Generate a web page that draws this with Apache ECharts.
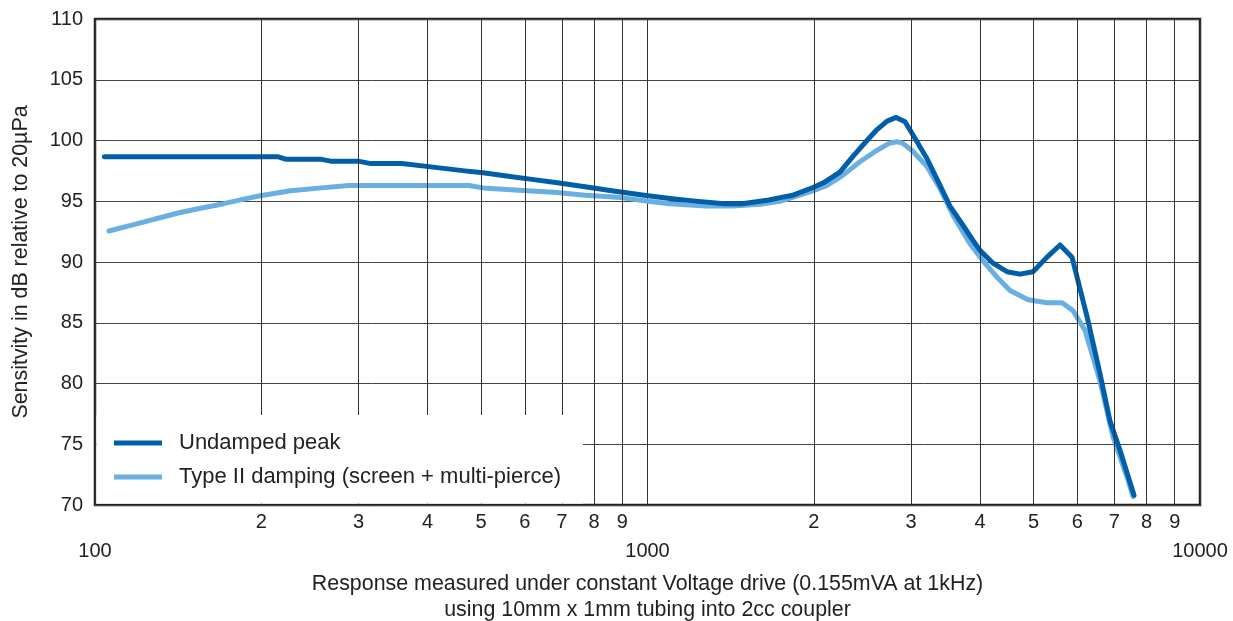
<!DOCTYPE html>
<html>
<head>
<meta charset="utf-8">
<script src="https://cdn.jsdelivr.net/npm/echarts@6/dist/echarts.min.js"></script>
<style>html,body{margin:0;padding:0;background:#fff;}#c{width:1233px;height:621px;}</style>
</head>
<body>
<div id="c"></div>
<script>
// Undamped peak
const undampedFreq = [104,214,222,257,267,299,316,359,402,467,504,573,618,692,771,862,986,1098,1209,1376,1483,1660,1737,1834,1993,2078,2230,2354,2496,2603,2714,2818,2925,3024,3206,3384,3527,3708,3866,3997,4220,4474,4723,4986,5286,5581,5866,6245,6592,6873,7165,7596];
const undampedDb = [98.67,98.67,98.45,98.45,98.3,98.3,98.1,98.1,97.85,97.5,97.35,97.0,96.8,96.5,96.2,95.86,95.5,95.23,95.03,94.8,94.8,95.1,95.3,95.5,96.13,96.5,97.4,98.7,100.0,100.9,101.6,101.9,101.55,100.45,98.5,96.3,94.6,93.15,91.9,90.96,89.9,89.2,89.0,89.2,90.4,91.4,90.4,85.5,80.8,76.9,74.5,70.8];
// Type II damping
const dampedFreq = [106,118,130,142,156,171,185,199,226,257,288,475,504,585,677,771,896,1002,1098,1276,1428,1598,1737,1993,2113,2259,2424,2603,2748,2829,2900,3024,3206,3384,3572,3834,4047,4291,4531,4884,5286,5627,5890,6193,6592,6960,7378,7565];
const dampedDb = [92.55,93.1,93.6,94.05,94.45,94.8,95.15,95.45,95.86,96.1,96.3,96.3,96.1,95.9,95.75,95.5,95.3,95.0,94.8,94.6,94.6,94.76,95.0,95.86,96.3,97.15,98.25,99.2,99.8,99.9,99.76,99.1,97.85,96.05,93.85,91.5,90.1,88.75,87.66,86.9,86.65,86.65,86.0,84.37,80.2,75.6,72.3,70.7];
// Minor grid lines (with digit labels)
const minorFreq = [200,300,400,500,600,700,800,900,2000,3000,4000,5000,6000,7000,8000,9000];
const minorLabels = ['2','3','4','5','6','7','8','9','2','3','4','5','6','7','8','9'];
const yTicks = [70,75,80,85,90,95,100,105,110];

const seriesNames = ['Undamped peak', 'Type II damping (screen + multi-pierce)'];
const font = '"Liberation Sans", Arial, sans-serif';
const textColor = '#222';

const chart = echarts.init(document.getElementById('c'), null, {renderer: 'canvas'});
const pair = (xs, ys) => xs.map((x, i) => [x, ys[i]]);

chart.setOption({
  animation: false,
  backgroundColor: '#fff',
  grid: {left: 95, right: 33, top: 19, bottom: 116, show: true, borderColor: '#222', borderWidth: 2.5, backgroundColor: 'transparent', outerBoundsMode: 'none', containLabel: false},
  xAxis: {
    type: 'log', logBase: 10, min: 100, max: 10000,
    axisLine: {show: false}, axisTick: {show: false},
    axisLabel: {show: true, margin: 36, fontSize: 20, color: textColor, fontFamily: font, showMinLabel: true, showMaxLabel: true,
      formatter: v => String(Math.round(v))},
    splitLine: {show: true, lineStyle: {color: '#333', width: 1}},
    name: 'Response measured under constant Voltage drive (0.155mVA at 1kHz)\nusing 10mm x 1mm tubing into 2cc coupler',
    nameLocation: 'middle', nameGap: 66,
    nameTextStyle: {fontSize: 21.4, color: textColor, fontFamily: font, lineHeight: 26, align: 'center'}
  },
  yAxis: {
    type: 'value', min: yTicks[0], max: yTicks[yTicks.length - 1], interval: 5,
    axisLine: {show: false}, axisTick: {show: false},
    axisLabel: {margin: 12, fontSize: 20, color: textColor, fontFamily: font},
    splitLine: {show: true, lineStyle: {color: '#444', width: 1}},
    name: 'Sensitvity in dB relative to 20\u00b5Pa', nameLocation: 'middle', nameGap: 63,
    nameTextStyle: {fontSize: 21.4, color: textColor, fontFamily: font}
  },
  legend: {
    z: 30, zlevel: 0,
    orient: 'vertical', left: 114, top: 432, padding: 0, itemGap: 12,
    itemWidth: 48, itemHeight: 5, icon: 'rect',
    data: seriesNames,
    textStyle: {fontSize: 22, color: textColor, fontFamily: font, padding: [0, 0, 0, 12]}
  },
  graphic: {
    elements: [{type: 'rect', z: 20, zlevel: 0, silent: true, shape: {x: 96.5, y: 415, width: 486.5, height: 88.5}, style: {fill: '#fff'}}]
  },
  series: [
    {
      name: seriesNames[1], type: 'line', data: pair(dampedFreq, dampedDb),
      showSymbol: false, symbol: 'none', smooth: false,
      lineStyle: {color: '#69afe1', width: 5, cap: 'round', join: 'round'},
      itemStyle: {color: '#69afe1'},
      markLine: {
        silent: true, symbol: 'none', animation: false,
        lineStyle: {color: '#333', width: 1, type: 'solid'},
        label: {show: true, position: 'start', distance: 7, formatter: '{b}', fontSize: 20, color: textColor, fontFamily: font},
        data: minorFreq.map((f, i) => ({xAxis: f, name: minorLabels[i]}))
      }
    },
    {
      name: seriesNames[0], type: 'line', data: pair(undampedFreq, undampedDb),
      showSymbol: false, symbol: 'none', smooth: false,
      lineStyle: {color: '#005fa8', width: 5, cap: 'round', join: 'round'},
      itemStyle: {color: '#005fa8'}
    }
  ]
});
</script>
</body>
</html>
